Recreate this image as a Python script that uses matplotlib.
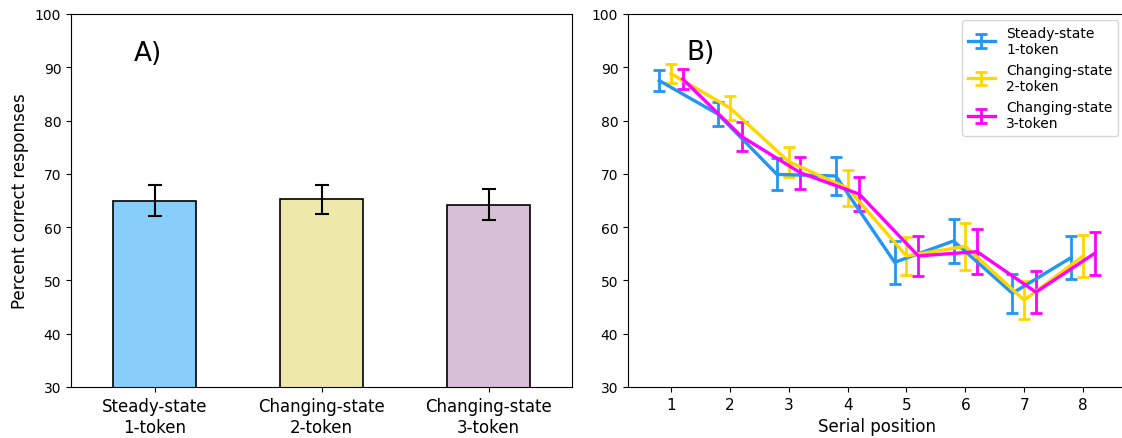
import matplotlib
matplotlib.use("Agg")
import matplotlib.pyplot as plt
import numpy as np

# Panel A data
conditions = ["Steady-state\n1-token", "Changing-state\n2-token", "Changing-state\n3-token"]
bar_means = [65.0, 65.2, 64.2]
bar_errs = [2.9, 2.7, 2.9]
bar_colors = ["#87CEFA", "#EEE8AA", "#D8BFD8"]

# Panel B data
positions = [1, 2, 3, 4, 5, 6, 7, 8]
steady_1 = [87.5, 81.2, 69.9, 69.6, 53.4, 57.4, 47.6, 54.3]
steady_1_err = [1.9, 2.3, 3.0, 3.6, 4.0, 4.2, 3.7, 4.0]
changing_2 = [88.8, 82.4, 72.3, 67.3, 54.6, 56.4, 46.3, 54.6]
changing_2_err = [1.8, 2.3, 2.8, 3.4, 3.6, 4.4, 3.6, 4.0]
changing_3 = [87.8, 77.0, 70.2, 66.2, 54.6, 55.4, 47.8, 55.1]
changing_3_err = [1.9, 2.8, 3.0, 3.2, 3.7, 4.2, 4.0, 4.0]
line_labels = ["Steady-state\n1-token", "Changing-state\n2-token", "Changing-state\n3-token"]
line_colors = ["#2196F3", "#FFD700", "#FF00FF"]
offsets = [-0.2, 0.0, 0.2]

fig = plt.figure(figsize=(11.22, 4.39), dpi=100)
axA = fig.add_axes([71/1122, 51/439, 501/1122, 373/439])
axB = fig.add_axes([628/1122, 51/439, 498/1122, 373/439])

x = np.arange(len(conditions))
axA.bar(x, bar_means, width=0.5, color=bar_colors, edgecolor="black", linewidth=1.2,
        yerr=bar_errs, capsize=5, error_kw=dict(elinewidth=1.5, capthick=1.5, ecolor="black"))
axA.set_xticks(x)
axA.set_xticklabels(conditions, fontsize=12)
axA.set_xlim(-0.5, 2.5)
axA.set_ylim(30, 100)
axA.set_ylabel("Percent correct responses", fontsize=12)
axA.tick_params(axis="y", labelsize=10)
axA.text(0.154, 0.895, "A)", transform=axA.transAxes, fontsize=19, ha="center", va="center")

series = [(steady_1, steady_1_err), (changing_2, changing_2_err), (changing_3, changing_3_err)]
for (vals, errs), lab, col, off in zip(series, line_labels, line_colors, offsets):
    xp = np.array(positions) + off
    axB.errorbar(xp, vals, yerr=errs, color=col, linewidth=2.4, elinewidth=2.0,
                 capsize=4, capthick=2.0, label=lab)
axB.set_xticks(positions)
axB.set_xlim(0.27, 8.73)
axB.set_ylim(30, 100)
axB.set_xlabel("Serial position", fontsize=12)
axB.tick_params(axis="both", labelsize=10)
axB.tick_params(axis="x", labelsize=11)
axB.text(0.145, 0.898, "B)", transform=axB.transAxes, fontsize=19, ha="center", va="center")
axB.legend(loc="upper right", fontsize=10, handlelength=2.0, borderaxespad=0.3,
           bbox_to_anchor=(0.993, 0.995))

fig.savefig("out.png", dpi=100)
